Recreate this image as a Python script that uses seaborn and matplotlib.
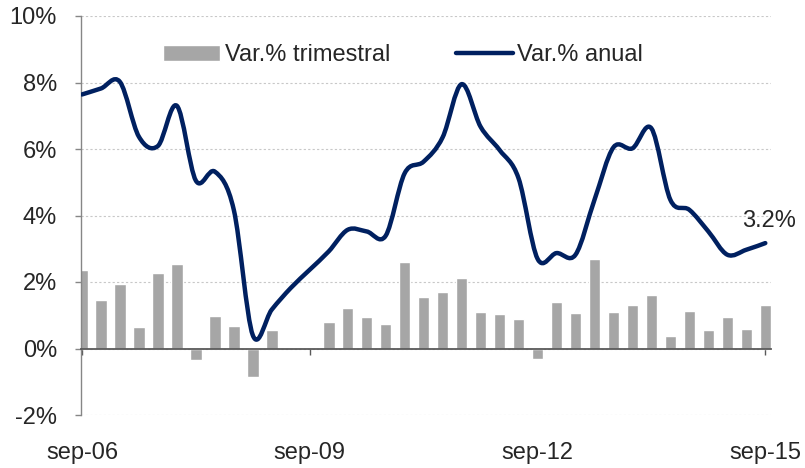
import numpy as np
import pandas as pd
import matplotlib
matplotlib.use('Agg')
import matplotlib.pyplot as plt
import seaborn as sns
from matplotlib.path import Path
from matplotlib.patches import PathPatch, Patch
from matplotlib.lines import Line2D

# quarterly series, sep-06 .. sep-15
quarters = np.arange(37)
tick_pos = [0, 12, 24, 36]
tick_labels = ['sep-06', 'sep-09', 'sep-12', 'sep-15']

var_trimestral = [2.35, 1.47, 1.94, 0.65, 2.26, 2.54, -0.36, 0.98, 0.69, -0.87, 0.56,
                  np.nan, np.nan,
                  0.81, 1.21, 0.94, 0.73, 2.60, 1.54, 1.71, 2.13, 1.11, 1.05, 0.89,
                  -0.33, 1.39, 1.08, 2.69, 1.09, 1.30, 1.60, 0.38, 1.14, 0.57, 0.94, 0.59, 1.31]
var_anual = [7.64, 7.82, 8.02, 6.37, 6.09, 7.30, 5.05, 5.32, 4.17, 0.40,
             1.17, 1.82, 2.37, 2.92, 3.57, 3.52, 3.39, 5.27, 5.62, 6.35,
             7.95, 6.67, 5.97, 5.12, 2.70, 2.87, 2.82, 4.47, 6.05, 6.02,
             6.62, 4.47, 4.17, 3.52, 2.82, 2.97, 3.17]
last_label = '3.2%'

BAR_COLOR = '#A6A6A6'
LINE_COLOR = '#002060'

sns.set_style('white')
plt.rcParams['font.family'] = ['Liberation Sans', 'DejaVu Sans']
plt.rcParams['font.size'] = 17


def smooth_path(x, y):
    # bezier path through the points, like a smoothed excel line
    x = np.asarray(x, float)
    y = np.asarray(y, float)
    n = len(x)
    verts = [(x[0], y[0])]
    codes = [Path.MOVETO]
    for i in range(n - 1):
        i0 = max(i - 1, 0)
        i3 = min(i + 2, n - 1)
        c1 = (x[i] + (x[i + 1] - x[i0]) / 6, y[i] + (y[i + 1] - y[i0]) / 6)
        c2 = (x[i + 1] - (x[i3] - x[i]) / 6, y[i + 1] - (y[i3] - y[i]) / 6)
        verts += [c1, c2, (x[i + 1], y[i + 1])]
        codes += [Path.CURVE4] * 3
    return Path(verts, codes)


fig = plt.figure(figsize=(8.05, 4.68), dpi=100)
ax = fig.add_axes([81 / 805, 1 - 415 / 468, 690 / 805, 399 / 468])

df = pd.DataFrame({'q': quarters, 'v': var_trimestral})
sns.barplot(data=df, x='q', y='v', native_scale=True, color=BAR_COLOR,
            saturation=1, width=0.61, ax=ax, zorder=2)

ax.add_patch(PathPatch(smooth_path(quarters, var_anual), facecolor='none',
                       edgecolor=LINE_COLOR, lw=3.2, capstyle='round',
                       joinstyle='round', zorder=3))

ax.annotate(last_label, xy=(quarters[-1], var_anual[-1]), xytext=(3, 8),
            textcoords='offset points', ha='center', va='bottom', fontsize=17)

ax.set_xlim(-0.05, 36.3)
ax.set_ylim(-2, 10)
ax.set_yticks(range(-2, 11, 2))
ax.set_yticklabels([f'{v}%' for v in range(-2, 11, 2)])
ax.set_xticks(tick_pos)
ax.set_xticklabels(tick_labels)
ax.set_xlabel('')
ax.set_ylabel('')

ax.set_axisbelow(True)
ax.yaxis.grid(True, linestyle=(0, (2, 2)), color='#C8C8C8', linewidth=0.8)
ax.xaxis.grid(False)

for side in ['top', 'right']:
    ax.spines[side].set_visible(False)
ax.spines['left'].set_color('#868686')
ax.spines['left'].set_linewidth(1)
ax.spines['bottom'].set_position(('data', 0))
ax.spines['bottom'].set_color('#595959')
ax.spines['bottom'].set_linewidth(1.3)
ax.spines['bottom'].set_zorder(4)

ax.tick_params(axis='y', direction='out', length=4.3, width=1, color='#868686',
               pad=13, labelsize=17, left=True)
ax.tick_params(axis='x', direction='out', length=4.3, width=1, color='#595959',
               pad=63, labelsize=17, bottom=True)

handles = [Patch(facecolor=BAR_COLOR), Line2D([], [], color=LINE_COLOR, lw=3.2)]
ax.legend(handles, ['Var.% trimestral', 'Var.% anual'], loc='center',
          bbox_to_anchor=(0.467, 0.902), ncol=2, frameon=False,
          handlelength=2.4, handletextpad=0.2, columnspacing=2.8, fontsize=17)

fig.savefig('out.png', dpi=100)
